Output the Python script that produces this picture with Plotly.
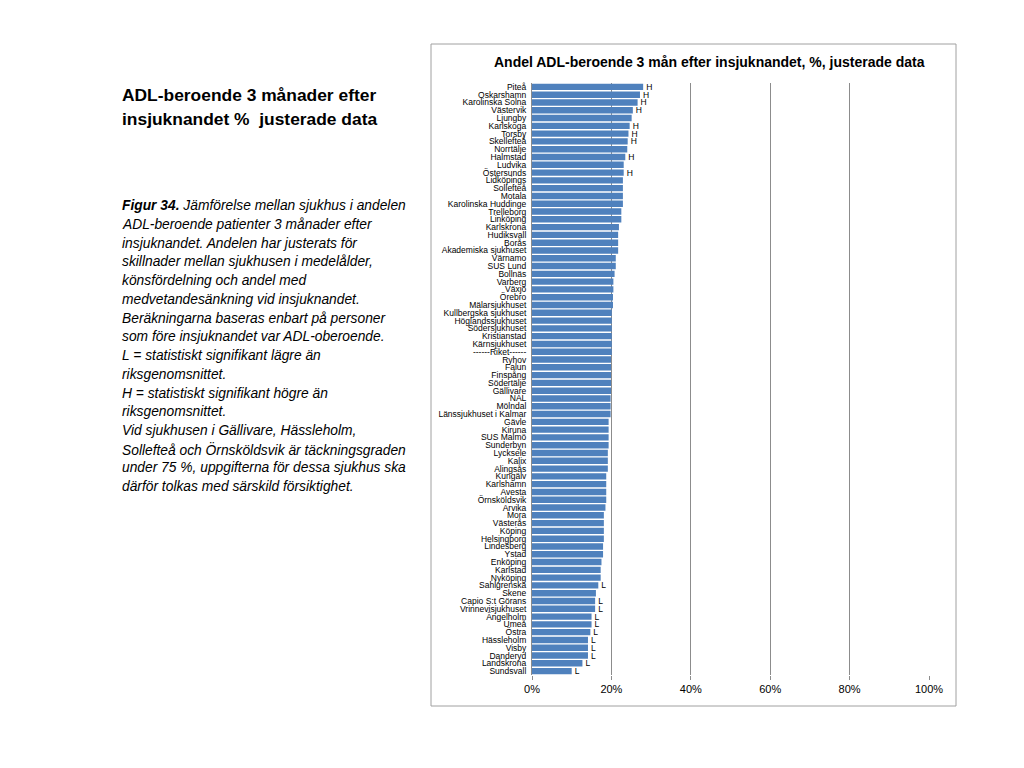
import plotly.graph_objects as go

hospitals = [
    "Piteå", "Oskarshamn", "Karolinska Solna", "Västervik", "Ljungby", "Karlskoga",
    "Torsby", "Skellefteå", "Norrtälje", "Halmstad", "Ludvika", "Östersunds",
    "Lidköpings", "Sollefteå", "Motala", "Karolinska Huddinge", "Trelleborg",
    "Linköping", "Karlskrona", "Hudiksvall", "Borås", "Akademiska sjukhuset",
    "Värnamo", "SUS Lund", "Bollnäs", "Varberg", "Växjö", "Örebro",
    "Mälarsjukhuset", "Kullbergska sjukhuset", "Höglandssjukhuset",
    "Södersjukhuset", "Kristianstad", "Kärnsjukhuset", "------Riket------",
    "Ryhov", "Falun", "Finspång", "Södertälje", "Gällivare", "NAL", "Mölndal",
    "Länssjukhuset i Kalmar", "Gävle", "Kiruna", "SUS Malmö", "Sunderbyn",
    "Lycksele", "Kalix", "Alingsås", "Kungälv", "Karlshamn", "Avesta",
    "Örnsköldsvik", "Arvika", "Mora", "Västerås", "Köping", "Helsingborg",
    "Lindesberg", "Ystad", "Enköping", "Karlstad", "Nyköping", "Sahlgrenska",
    "Skene", "Capio S:t Görans", "Vrinnevisjukhuset", "Ängelholm", "Umeå",
    "Östra", "Hässleholm", "Visby", "Danderyd", "Landskrona", "Sundsvall",
]

values = [
    28.0, 27.2, 26.6, 25.4, 25.1, 24.6, 24.3, 24.1, 24.0, 23.5, 23.1, 23.1,
    22.9, 22.9, 22.9, 22.9, 22.5, 22.5, 21.9, 21.7, 21.7, 21.7, 21.1, 21.1,
    20.8, 20.5, 20.5, 20.4, 20.4, 20.1, 20.1, 20.1, 20.1, 20.1, 20.1, 19.9,
    19.9, 19.9, 19.9, 19.9, 19.8, 19.8, 19.8, 19.3, 19.3, 19.3, 19.3, 19.1,
    19.1, 19.1, 18.7, 18.7, 18.7, 18.7, 18.5, 18.1, 18.1, 18.1, 18.1, 17.9,
    17.9, 17.5, 17.3, 17.3, 16.7, 16.1, 15.9, 15.9, 15.0, 15.0, 14.7, 14.1,
    14.1, 14.1, 12.7, 10.0,
]

flags = [
    "H", "H", "H", "H", "", "H", "H", "H", "", "H", "", "H",
    "", "", "", "", "", "", "", "", "", "", "", "",
    "", "", "", "", "", "", "", "", "", "", "", "",
    "", "", "", "", "", "", "", "", "", "", "", "",
    "", "", "", "", "", "", "", "", "", "", "", "",
    "", "", "", "", "L", "", "L", "L", "L", "L", "L", "L",
    "L", "L", "L", "L",
]

x_ticks = [0, 20, 40, 60, 80, 100]
x_tick_labels = ["0%", "20%", "40%", "60%", "80%", "100%"]

title_text = "Andel ADL-beroende 3 mån efter insjuknandet, %, justerade data"
heading_lines = ["ADL-beroende 3 månader efter", "insjuknandet %  justerade data"]
body_lines = [
    "<b>Figur 34.</b> Jämförelse mellan sjukhus i andelen",
    "ADL-beroende patienter 3 månader efter",
    "insjuknandet. Andelen har justerats för",
    "skillnader mellan sjukhusen i medelålder,",
    "könsfördelning och andel med",
    "medvetandesänkning vid insjuknandet.",
    "Beräkningarna baseras enbart på personer",
    "som före insjuknandet var ADL-oberoende.",
    "L = statistiskt signifikant lägre än",
    "riksgenomsnittet.",
    "H = statistiskt signifikant högre än",
    "riksgenomsnittet.",
    "Vid sjukhusen i Gällivare, Hässleholm,",
    "Sollefteå och Örnsköldsvik är täckningsgraden",
    "under 75 %, uppgifterna för dessa sjukhus ska",
    "därför tolkas med särskild försiktighet.",
]

OFF = 8  # page body margin
W, H = 1024 - OFF, 768 - OFF
L, R, T, B = 532 - OFF, 929 - OFF, 83 - OFF, 675 - OFF
pw, ph = R - L, B - T


def px(x):
    return (x - OFF - L) / pw


def py(y):
    return (B - (y - OFF)) / ph


FONT = "Liberation Sans Narrow, Arial Narrow, Liberation Sans, Arial, sans-serif"
TEXTFONT = "Liberation Sans, Arial, sans-serif"

fig = go.Figure()
fig.add_trace(go.Bar(
    y=hospitals, x=values, orientation="h",
    marker=dict(color="#4F81BD", line=dict(width=0)),
    text=flags, textposition="outside", constraintext="none",
    textfont=dict(family=FONT, size=8.5, color="#000000"),
    cliponaxis=False, width=0.82,
))

annotations = [
    dict(text="<b>" + title_text + "</b>", x=px(709), y=py(62), xref="paper", yref="paper",
         xanchor="center", yanchor="middle", showarrow=False,
         font=dict(family=FONT, size=14, color="#000000")),
]
for i, line in enumerate(heading_lines):
    annotations.append(dict(text="<b>" + line + "</b>", x=px(120), y=py(95 + i * 24),
                            xref="paper", yref="paper", xanchor="left", yanchor="middle",
                            showarrow=False, font=dict(family=TEXTFONT, size=17.4, color="#000000")))
for i, line in enumerate(body_lines):
    annotations.append(dict(text="<i>" + line + "</i>", x=px(120), y=py(205.7 + i * 18.73),
                            xref="paper", yref="paper", xanchor="left", yanchor="middle",
                            showarrow=False, font=dict(family=TEXTFONT, size=13.8, color="#000000")))

fig.update_layout(
    width=W, height=H,
    margin=dict(l=L, r=W - R, t=T, b=H - B, pad=0),
    paper_bgcolor="white", plot_bgcolor="white",
    showlegend=False,
    bargap=0.18,
    annotations=annotations,
    shapes=[dict(type="rect", xref="paper", yref="paper",
                 x0=px(431), x1=px(956), y0=py(706), y1=py(44),
                 line=dict(color="#A0A0A0", width=1), fillcolor="rgba(0,0,0,0)", layer="below")],
    xaxis=dict(range=[0, 100], tickvals=x_ticks, ticktext=x_tick_labels,
               showgrid=True, gridcolor="#8C8C8C", gridwidth=1, zeroline=False,
               showline=False, ticks="outside", ticklen=4, tickcolor="#8C8C8C",
               tickfont=dict(family=FONT, size=11, color="#000000"), fixedrange=True),
    yaxis=dict(categoryorder="array", categoryarray=hospitals, autorange="reversed",
               tickmode="array", tickvals=hospitals, ticktext=hospitals,
               showline=True, linecolor="#8C8C8C", linewidth=1, ticks="", ticklen=0,
               showgrid=False, tickfont=dict(family=FONT, size=8.5, color="#000000"),
               ticklabelstandoff=3, fixedrange=True),
)

fig.write_html("out.html")
